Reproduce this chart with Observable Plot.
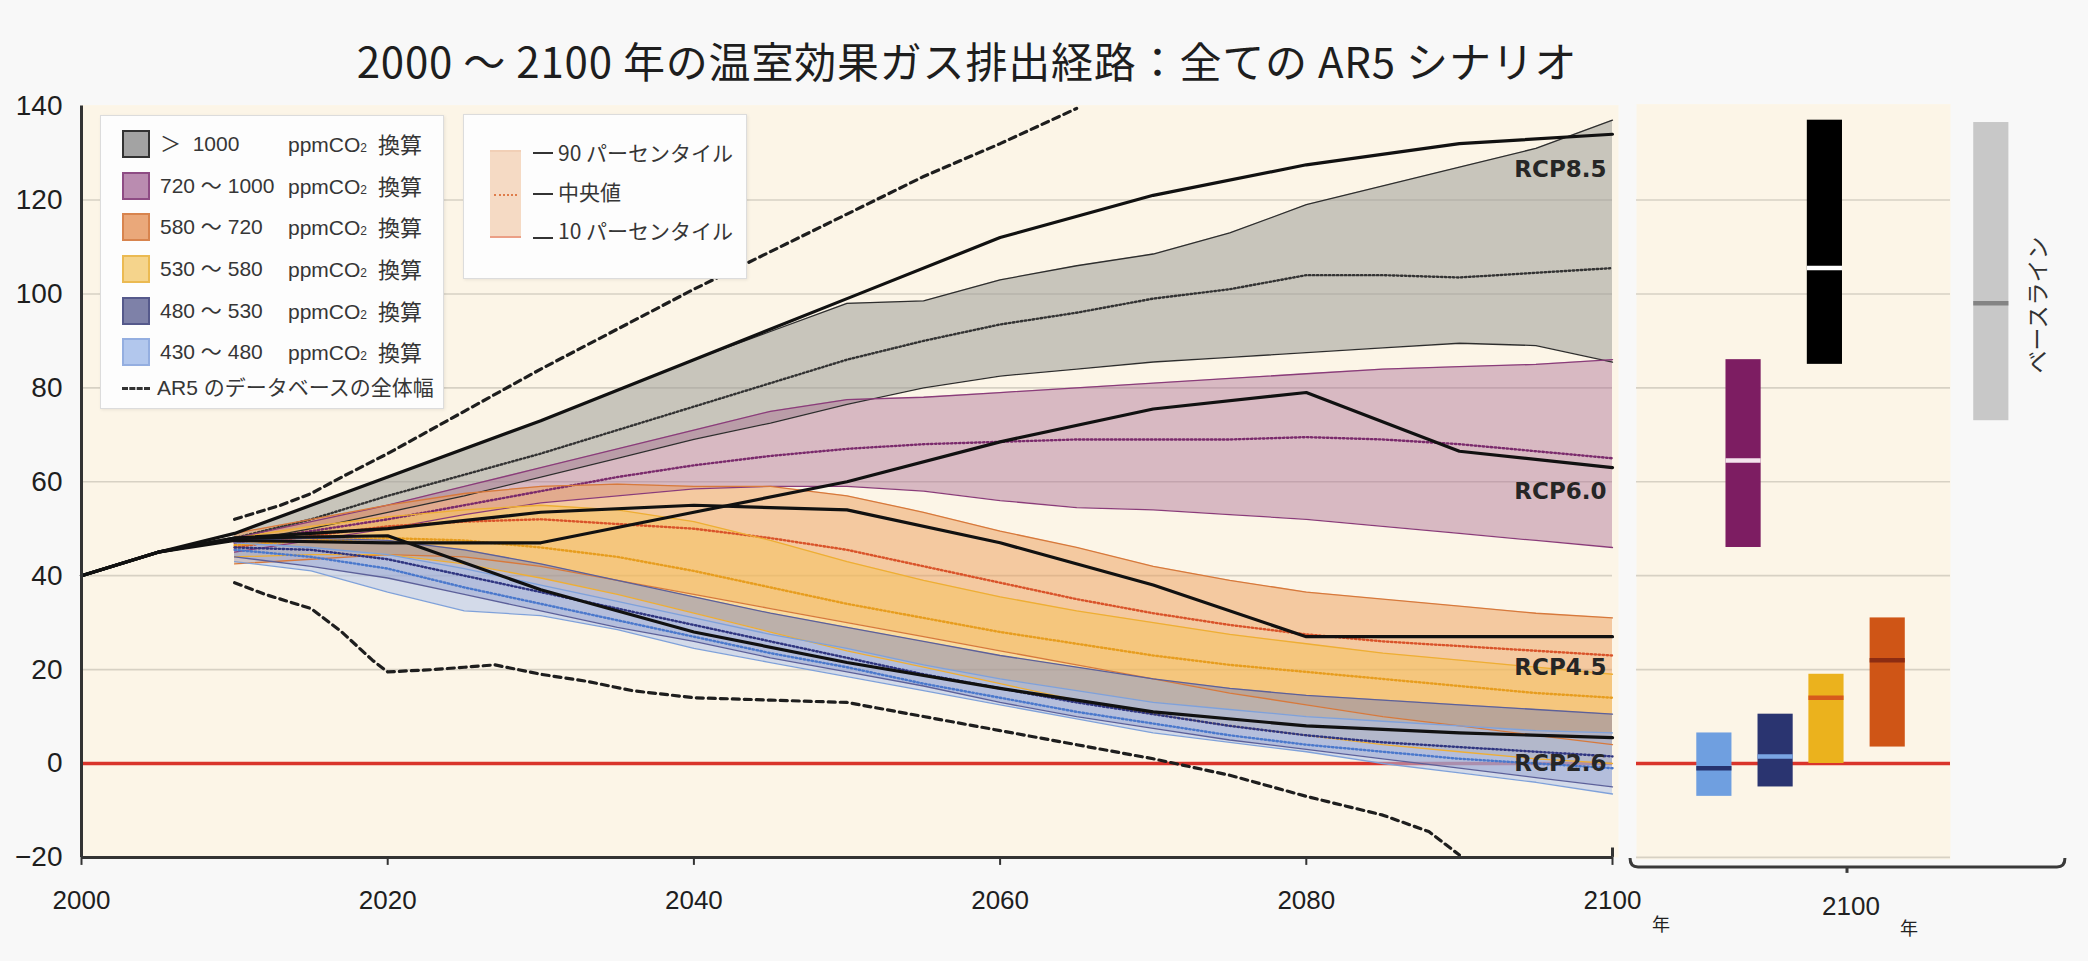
<!DOCTYPE html>
<html>
<head>
<meta charset="utf-8">
<script src="https://cdn.jsdelivr.net/npm/d3@7"></script>
<script src="https://cdn.jsdelivr.net/npm/@observablehq/plot@0.6"></script>
<style>
  html, body { margin: 0; padding: 0; background: #f8f8f8; }
  #root { position: relative; width: 2088px; height: 961px; overflow: hidden;
          font-family: "Liberation Sans", Arial, "Noto Sans CJK JP", sans-serif; color: #2a2a2a; }
  #title { position: absolute; left: 0; top: 33px; width: 1934px; text-align: center; letter-spacing: 0.8px;
           font-family: "Noto Sans CJK JP", sans-serif; font-size: 42px; line-height: 54px; color: #1e1e1e; }
  .legend { position: absolute; background: #fdfdfd; border: 1.5px solid #dcdcdc;
            box-shadow: 1px 1px 3px rgba(0,0,0,0.08); box-sizing: border-box; }
  .lg-text { position: absolute; font-size: 21px; line-height: 24px; white-space: pre; color: #363636;
             font-family: "Liberation Sans", Arial, "Noto Sans CJK JP", sans-serif; }
  .lg-sw { position: absolute; width: 28px; height: 28px; box-sizing: border-box; border: 2px solid; }
  .cap { position: absolute; color: #222; font-family: "Liberation Sans", Arial, "Noto Sans CJK JP", sans-serif; white-space: pre; }
</style>
</head>
<body>
<div id="root">
  <div id="title">2000 ～ 2100 年の温室効果ガス排出経路：全ての AR5 シナリオ</div>
</div>
<script>
// ---- time axis of the scenario bands (5-year steps) ----
const years = [2010, 2015, 2020, 2025, 2030, 2035, 2040, 2045, 2050, 2055, 2060, 2065, 2070, 2075, 2080, 2085, 2090, 2095, 2100];

// > 1000 ppm CO2eq : 90th percentile, median, 10th percentile (GtCO2eq/yr)
const over1000Hi  = [49, 55, 61, 67, 73, 79.5, 86, 92, 98, 98.5, 103, 106, 108.5, 113, 119, 123, 127, 131, 137];
const over1000Med = [48, 52, 57, 61.5, 66, 71, 76, 81, 86, 90, 93.5, 96, 99, 101, 104, 104, 103.5, 104.5, 105.5];
const over1000Lo  = [47, 50, 53.5, 57, 61, 65, 69, 72.5, 76.5, 80, 82.5, 84, 85.5, 86.5, 87.5, 88.5, 89.5, 89, 85.5];
// 720 - 1000 ppm
const c720Hi  = [48, 51.5, 55, 59, 63, 67, 71, 75, 77.5, 78, 79, 80, 81, 82, 83, 84, 84.5, 85, 86];
const c720Med = [47, 49.5, 52, 55, 58, 61, 63.5, 65.5, 67, 68, 68.5, 69, 69, 69, 69.5, 69, 68, 66.5, 65];
const c720Lo  = [45, 47.5, 50, 53, 55.5, 57, 58.5, 59, 59, 58, 56, 54.5, 54, 53, 52, 50.5, 49, 47.5, 46];
// 580 - 720 ppm
const c580Hi  = [49, 52, 55, 57.5, 59, 59.5, 59, 59, 57, 53.5, 49.5, 46, 42, 39, 36.5, 35, 33.5, 32, 31];
const c580Med = [46, 48.5, 50.5, 51.5, 52, 51, 50, 48, 45.5, 42, 38.5, 35, 32, 29.5, 27.5, 26, 25, 24, 23];
const c580Lo  = [42.5, 43.5, 44.5, 44, 42, 39, 36, 33, 30, 27, 24, 21, 18, 15, 12.5, 10, 8, 6, 4];
// 530 - 580 ppm
const c530Hi  = [48, 50.5, 52.5, 54, 55, 54, 51.5, 47.5, 43, 39, 35.5, 32.5, 30, 27.5, 25.5, 23.5, 22, 20.5, 19];
const c530Med = [46.5, 47.5, 48, 47.5, 46, 44, 41, 37.5, 34, 31, 28, 25.5, 23, 21, 19.5, 18, 16.5, 15, 14];
const c530Lo  = [44, 44.5, 44.5, 42.5, 39.5, 36, 32, 28, 24, 20.5, 17, 13.5, 10.5, 8, 6, 4, 2.5, 1, 0];
// 480 - 530 ppm
const c480Hi  = [47.5, 48, 47.5, 45.5, 42.5, 39, 35.5, 32, 29, 26, 23, 20.5, 18, 16, 14.5, 13.5, 12.5, 11.5, 10.5];
const c480Med = [46, 45.5, 43.5, 40, 36.5, 33, 29.5, 26, 22.5, 19, 16, 13, 10.5, 8, 6, 4.5, 3.5, 2.5, 1.5];
const c480Lo  = [44, 42, 39.5, 36, 32.5, 29, 26, 22.5, 19.5, 16.5, 13, 10, 7.5, 5, 3, 1, -1, -3, -5];
// 430 - 480 ppm
const c430Hi  = [47, 46, 44.5, 41.5, 38, 34.5, 31, 27.5, 24.5, 21, 18, 15.5, 13, 11.5, 10, 9, 8, 7, 6.5];
const c430Med = [45.5, 44, 41.5, 37.5, 34, 30.5, 27, 23.5, 20.5, 17, 14, 11, 8.5, 6, 4, 2.5, 1, 0, -1];
const c430Lo  = [43, 41, 36.5, 32.5, 31.5, 28.5, 24.5, 21.5, 18.5, 15.5, 12.5, 9.5, 6.5, 4.5, 2.5, 0, -2, -4, -6.5];

// ---- RCP pathways ----
const rcpYears = [2000, 2005, 2010, 2020, 2030, 2040, 2050, 2060, 2070, 2080, 2090, 2100];
const rcp85 = [40, 45, 49, 61, 73, 86, 99, 112, 121, 127.5, 132, 134];
const rcp60 = [40, 45, 47.5, 47, 47, 53.5, 60, 68.5, 75.5, 79, 66.5, 63];
const rcp45 = [40, 45, 48, 50, 53.5, 55, 54, 47, 38, 27, 27, 27];
const rcp26 = [40, 45, 48, 48.5, 37, 28, 21.5, 16, 11, 8, 6.5, 5.5];
const rcpNames = ["RCP8.5", "RCP6.0", "RCP4.5", "RCP2.6"];

// ---- full range of the AR5 scenario database ----
const dbUpperYears = [2010, 2013, 2015, 2017, 2020, 2025, 2030, 2035, 2040, 2045, 2050, 2055, 2060, 2065];
const dbUpper      = [52, 55, 57.5, 61, 66, 75, 84, 92.5, 101, 109, 117, 125, 132, 139.5];
const dbLowerYears = [2010, 2012, 2015, 2017, 2019, 2020, 2023, 2025, 2027, 2030, 2033, 2036, 2040, 2045, 2050, 2055, 2060, 2065, 2070, 2075, 2080, 2085, 2088, 2090];
const dbLower      = [38.5, 36, 33, 28, 22, 19.5, 20, 20.5, 21, 19, 17.5, 15.5, 14, 13.5, 13, 10, 7, 4, 1, -2.5, -7, -11, -14.5, -19.5];

// ---- 2100 ranges per category and baseline ----
const categories  = [">1000", "720-1000", "580-720", "530-580", "480-530", "430-480"];
const bar2100Lo   = [85, 46, 3.5, 0, -5, -7];
const bar2100Med  = [105.5, 64.5, 22, 14, 1.5, -1];
const bar2100Hi   = [137, 86, 31, 19, 10.5, 6.5];
const baseline2100 = [73, 98, 136.5]; // lo, median, hi

// ---- text ----
const legendRanges = ["＞  1000", "720 ～ 1000", "580 ～ 720", "530 ～ 580", "480 ～ 530", "430 ～ 480"];
const xTicks = [2000, 2020, 2040, 2060, 2080, 2100];
const yTicks = [140, 120, 100, 80, 60, 40, 20, 0, -20];

// ---- styling per category ----
const catStyle = {
  ">1000":    {fill: "#9d9c98", op: 0.55, edge: "#2e2e2e", med: "#333333", sw: "#a3a3a3", swb: "#333333",
               bar: "#000000", barMed: "#ffffff"},
  "720-1000": {fill: "#a8678f", op: 0.42, edge: "#8a3c7a", med: "#7a2a6c", sw: "#ba8cb0", swb: "#8e4c84",
               bar: "#7d1d62", barMed: "#f4e4ee"},
  "580-720":  {fill: "#eb9d5a", op: 0.5,  edge: "#d7793c", med: "#d9532a", sw: "#eaa87a", swb: "#d8844e",
               bar: "#cf5516", barMed: "#8c2c12"},
  "530-580":  {fill: "#f5c45a", op: 0.5,  edge: "#eeae34", med: "#e79d1e", sw: "#f5d48c", swb: "#ebba52",
               bar: "#ebb21d", barMed: "#d65a1c"},
  "480-530":  {fill: "#7f84b4", op: 0.5,  edge: "#5c609a", med: "#2f3580", sw: "#7e81a8", swb: "#55598b",
               bar: "#2a3470", barMed: "#7aa5e4"},
  "430-480":  {fill: "#a9c0ec", op: 0.5,  edge: "#7fa1da", med: "#4a78cc", sw: "#b2c7ed", swb: "#94aee0",
               bar: "#6f9fe0", barMed: "#26326e"}
};
// horizontal slot of each 2100 bar inside the side panel (0..1 of its width)
const barSlot = {">1000": 0.6, "720-1000": 0.341, "580-720": 0.80, "530-580": 0.605, "480-530": 0.443, "430-480": 0.248};
const baselineSlot = 1.13;
const barHalf = 0.056;

// ---- build tables ----
const bandSeries = [
  [">1000", over1000Lo, over1000Med, over1000Hi],
  ["720-1000", c720Lo, c720Med, c720Hi],
  ["580-720", c580Lo, c580Med, c580Hi],
  ["530-580", c530Lo, c530Med, c530Hi],
  ["480-530", c480Lo, c480Med, c480Hi],
  ["430-480", c430Lo, c430Med, c430Hi]
];
const bandRows = bandSeries.map(([cat, lo, med, hi]) =>
  ({cat, rows: years.map((year, i) => ({year, lo: lo[i], med: med[i], hi: hi[i]}))}));

const rcpRows = [rcp85, rcp60, rcp45, rcp26].map((vals, k) =>
  rcpYears.map((year, i) => ({year, value: vals[i], name: rcpNames[k]})));
const dbUpperRows = dbUpperYears.map((year, i) => ({year, value: dbUpper[i]}));
const dbLowerRows = dbLowerYears.map((year, i) => ({year, value: dbLower[i]}));
const rcpLabelY = [126.5, 58, 20.5, 0];
const rcpLabels = rcpNames.map((name, i) => ({name, y: rcpLabelY[i]}));

const gridValues = [120, 100, 80, 60, 40, 20, -20];
const cream = "#fcf5e7";
const gridColor = "#d7d1c4";
const zeroColor = "#d9342b";

// ---- main panel ----
const bandMarks = [];
for (const {cat, rows} of bandRows) {
  const s = catStyle[cat];
  bandMarks.push(Plot.areaY(rows, {x: "year", y1: "lo", y2: "hi", fill: s.fill, fillOpacity: s.op}));
}
for (const {cat, rows} of bandRows) {
  const s = catStyle[cat];
  bandMarks.push(Plot.lineY(rows, {x: "year", y: "hi", stroke: s.edge, strokeWidth: 1.3}));
  bandMarks.push(Plot.lineY(rows, {x: "year", y: "lo", stroke: s.edge, strokeWidth: 1.3}));
  bandMarks.push(Plot.lineY(rows, {x: "year", y: "med", stroke: s.med, strokeWidth: 2.4, strokeDasharray: "1.5,2.5"}));
}

const main = Plot.plot({
  width: 1640,
  height: 961,
  marginLeft: 81,
  marginRight: 28,
  marginTop: 105.6,
  marginBottom: 104.1,
  x: {domain: [2000, 2100]},
  y: {domain: [-20, 140]},
  style: {background: "transparent", overflow: "visible", maxWidth: "none"},
  marks: [
    Plot.frame({fill: cream, stroke: "none", insetRight: -6, insetTop: -1}),
    Plot.ruleY(gridValues, {stroke: gridColor, strokeWidth: 1.6}),
    Plot.ruleY([0], {stroke: zeroColor, strokeWidth: 3.5}),
    ...bandMarks,
    Plot.lineY(dbUpperRows, {x: "year", y: "value", stroke: "#1e1e1e", strokeWidth: 3.2, strokeDasharray: "7,5"}),
    Plot.lineY(dbLowerRows, {x: "year", y: "value", stroke: "#1e1e1e", strokeWidth: 3.2, strokeDasharray: "7,5"}),
    ...rcpRows.map(rows => Plot.lineY(rows, {x: "year", y: "value", stroke: "#111", strokeWidth: 3.2})),
    Plot.text(rcpLabels, {x: 2100, y: "y", text: "name", textAnchor: "end", dx: -6,
      fontSize: 23, fontWeight: "bold", fontFamily: "DejaVu Sans", fill: "#262626"}),
    Plot.ruleX([2000], {stroke: "#333", strokeWidth: 3}),
    Plot.ruleY([-20], {stroke: "#333", strokeWidth: 3}),
    Plot.ruleX([2100], {y1: -20, y2: -18, stroke: "#333", strokeWidth: 3}),
    Plot.axisY({ticks: yTicks, tickSize: 0, tickPadding: 19, fontSize: 28, fill: "#1e1e1e",
      fontFamily: "Liberation Sans", label: null}),
    Plot.axisX({ticks: xTicks, tickFormat: "d", tickSize: 8, tickPadding: 25, fontSize: 26,
      stroke: "#333", strokeWidth: 2, fill: "#1e1e1e", fontFamily: "Liberation Sans", label: null})
  ]
});
main.style.position = "absolute";
main.style.left = "0px";
main.style.top = "0px";

// ---- side panel: 2100 ranges ----
const barRows = categories.map((cat, i) => ({
  cat, lo: bar2100Lo[i], med: bar2100Med[i], hi: bar2100Hi[i],
  x1: barSlot[cat] - barHalf, x2: barSlot[cat] + barHalf,
  fill: catStyle[cat].bar, medColor: catStyle[cat].barMed
}));
const baseRow = [{lo: baseline2100[0], med: baseline2100[1], hi: baseline2100[2],
  x1: baselineSlot - barHalf, x2: baselineSlot + barHalf}];

const side = Plot.plot({
  width: 488,
  height: 961,
  marginLeft: 36,
  marginRight: 138,
  marginTop: 105.6,
  marginBottom: 104.1,
  x: {domain: [0, 1], axis: null},
  y: {domain: [-20, 140], axis: null},
  style: {background: "transparent", overflow: "visible", maxWidth: "none"},
  marks: [
    Plot.frame({fill: cream, stroke: "none", insetTop: -2, insetBottom: -2}),
    Plot.ruleY(gridValues, {stroke: gridColor, strokeWidth: 1.6}),
    Plot.ruleY([0], {stroke: zeroColor, strokeWidth: 3.5}),
    Plot.rect(barRows, {x1: "x1", x2: "x2", y1: "lo", y2: "hi", fill: "fill"}),
    Plot.ruleY(barRows, {x1: "x1", x2: "x2", y: "med", stroke: "medColor", strokeWidth: 4.5}),
    Plot.rect(baseRow, {x1: "x1", x2: "x2", y1: "lo", y2: "hi", fill: "#c8c8c8"}),
    Plot.ruleY(baseRow, {x1: "x1", x2: "x2", y: "med", stroke: "#848484", strokeWidth: 4.5})
  ]
});
side.style.position = "absolute";
side.style.left = "1600px";
side.style.top = "0px";

// bracket under the side panel
{
  const sx = side.scale("x"), sy = side.scale("y");
  const xa = sx.apply(-0.019), xb = sx.apply(1.366), xm = sx.apply(0.672);
  const yb = sy.apply(-20) + 10;
  const g = d3.select(side).append("g").attr("fill", "none").attr("stroke", "#3a3a3a").attr("stroke-width", 3);
  g.append("path").attr("d", `M${xa},${yb - 9} Q${xa},${yb} ${xa + 8},${yb} L${xb - 8},${yb} Q${xb},${yb} ${xb},${yb - 9}`);
  g.append("path").attr("d", `M${xm},${yb} L${xm},${yb + 6}`);
}

const root = document.getElementById("root");
root.appendChild(main);
root.appendChild(side);

// ---- captions ----
function cap(text, left, top, size, extra) {
  const d = document.createElement("div");
  d.className = "cap";
  d.textContent = text;
  d.style.left = left + "px";
  d.style.top = top + "px";
  d.style.fontSize = size + "px";
  if (extra) Object.assign(d.style, extra);
  root.appendChild(d);
  return d;
}
cap("年", 1652, 910, 18, {fontFamily: "Noto Sans CJK JP"});
cap("2100", 1822, 891, 26);
cap("年", 1900, 914, 18, {fontFamily: "Noto Sans CJK JP"});
cap("ベースライン", 2036, 305, 23, {fontFamily: "Noto Sans CJK JP", transform: "translate(-50%,-50%) rotate(-90deg)", color: "#333"});

// ---- legend: concentration categories ----
const leg1 = document.createElement("div");
leg1.className = "legend";
Object.assign(leg1.style, {left: "100px", top: "115px", width: "344px", height: "294px"});
root.appendChild(leg1);
const rowCenters = [28, 70, 111, 153, 195, 236];
categories.forEach((cat, i) => {
  const s = catStyle[cat];
  const sw = document.createElement("div");
  sw.className = "lg-sw";
  Object.assign(sw.style, {left: "21px", top: (rowCenters[i] - 14) + "px", background: s.sw, borderColor: s.swb});
  leg1.appendChild(sw);
  const t1 = document.createElement("div");
  t1.className = "lg-text";
  t1.textContent = legendRanges[i];
  Object.assign(t1.style, {left: "59px", top: (rowCenters[i] - 12) + "px"});
  leg1.appendChild(t1);
  const t2 = document.createElement("div");
  t2.className = "lg-text";
  t2.innerHTML = "ppmCO<span style='font-size:12px'>2</span>";
  Object.assign(t2.style, {left: "187px", top: (rowCenters[i] - 11) + "px"});
  leg1.appendChild(t2);
  const t3 = document.createElement("div");
  t3.className = "lg-text";
  t3.textContent = "換算";
  Object.assign(t3.style, {left: "277px", top: (rowCenters[i] - 13) + "px", fontFamily: "Noto Sans CJK JP", fontSize: "22px"});
  leg1.appendChild(t3);
});
{
  const dash = document.createElement("div");
  Object.assign(dash.style, {position: "absolute", left: "21px", top: "271px", width: "28px", height: "0",
    borderTop: "3px dashed #333"});
  leg1.appendChild(dash);
  const t = document.createElement("div");
  t.className = "lg-text";
  t.textContent = "AR5 のデータベースの全体幅";
  Object.assign(t.style, {left: "56px", top: "260px"});
  leg1.appendChild(t);
}

// ---- legend: percentile key ----
const leg2 = document.createElement("div");
leg2.className = "legend";
Object.assign(leg2.style, {left: "463px", top: "114px", width: "284px", height: "165px"});
root.appendChild(leg2);
{
  const box = document.createElement("div");
  Object.assign(box.style, {position: "absolute", left: "26px", top: "35px", width: "31px", height: "88px",
    background: "#f5dac4", borderTop: "2px solid #f1cfb6", borderBottom: "2px solid #eb9f86", boxSizing: "border-box"});
  leg2.appendChild(box);
  const med = document.createElement("div");
  Object.assign(med.style, {position: "absolute", left: "30px", top: "79px", width: "23px", height: "0",
    borderTop: "2px dotted #df7c4a"});
  leg2.appendChild(med);
  const keyRows = [
    {text: "90 パーセンタイル", dashTop: 37, textTop: 25},
    {text: "中央値", dashTop: 78, textTop: 64},
    {text: "10 パーセンタイル", dashTop: 122, textTop: 103}
  ];
  keyRows.forEach(r => {
    const d = document.createElement("div");
    Object.assign(d.style, {position: "absolute", left: "69px", top: r.dashTop + "px", width: "20px", height: "0",
      borderTop: "2px solid #333"});
    leg2.appendChild(d);
    const t = document.createElement("div");
    t.className = "lg-text";
    t.textContent = r.text;
    Object.assign(t.style, {left: "94px", top: r.textTop + "px", fontFamily: "Noto Sans CJK JP", fontSize: "21px"});
    leg2.appendChild(t);
  });
}
</script>
</body>
</html>
